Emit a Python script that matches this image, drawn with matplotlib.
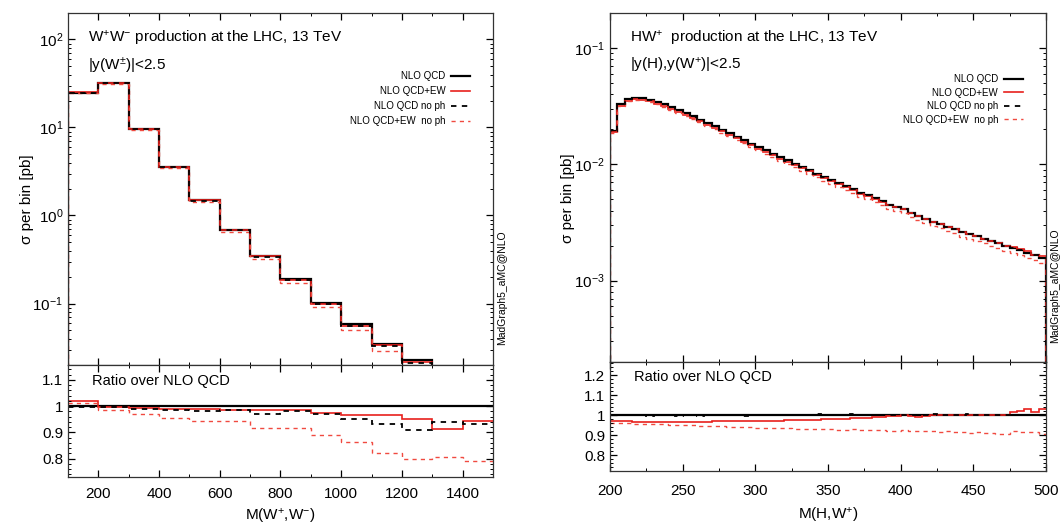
import numpy as np
import matplotlib
matplotlib.use("Agg")
import matplotlib.pyplot as plt
from matplotlib.ticker import MultipleLocator, FixedLocator, FuncFormatter, LogLocator, NullFormatter

plt.rcParams['font.family'] = ['Liberation Sans', 'DejaVu Sans']
plt.rcParams['mathtext.fontset'] = 'custom'
plt.rcParams['mathtext.rm'] = 'Liberation Sans'
plt.rcParams['mathtext.it'] = 'Liberation Sans:italic'
plt.rcParams['mathtext.bf'] = 'Liberation Sans:bold'

# ---- W+W- : M(W+,W-) bins of 100 GeV ----
ww_edges = [100, 200, 300, 400, 500, 600, 700, 800, 900, 1000, 1100, 1200, 1300, 1400, 1500]
ww_qcd = [24.5, 32.0, 9.6, 3.6, 1.5, 0.69, 0.35, 0.188, 0.102, 0.058, 0.035, 0.023, 0.0135, 0.0085]
ww_r_ew = [1.02, 0.996, 0.993, 0.99, 0.988, 0.987, 0.985, 0.985, 0.975, 0.968, 0.968, 0.95, 0.912, 0.945]
ww_r_noph = [0.998, 0.997, 0.99, 0.985, 0.98, 0.985, 0.972, 0.982, 0.97, 0.953, 0.932, 0.91, 0.94, 0.933]
ww_r_ew_noph = [1.012, 0.986, 0.969, 0.956, 0.943, 0.943, 0.916, 0.916, 0.89, 0.862, 0.82, 0.798, 0.808, 0.79]

# ---- HW+ : M(H,W+) bins of 5 GeV ----
hw_edges = list(range(200, 505, 5))
hw_qcd = [0.0195, 0.033, 0.0365, 0.0375, 0.0372, 0.036, 0.0345, 0.0328, 0.031, 0.0292,
          0.0275, 0.0258, 0.0242, 0.0227, 0.0212, 0.0198, 0.0185, 0.0173, 0.0161, 0.0151,
          0.0141, 0.0132, 0.0123, 0.0115, 0.0108, 0.0101, 0.0095, 0.0089, 0.0083, 0.0078,
          0.0073, 0.0069, 0.0065, 0.0061, 0.0057, 0.0054, 0.0051, 0.0048, 0.0045, 0.0043,
          0.0041, 0.0038, 0.0036, 0.0034, 0.0032, 0.0031, 0.0029, 0.0028, 0.0026, 0.0025,
          0.0024, 0.0023, 0.0022, 0.0021, 0.0020, 0.0019, 0.00182, 0.00173, 0.00165, 0.00158]
hw_r_ew = [0.970, 0.968, 0.968, 0.967, 0.967, 0.967, 0.966, 0.966, 0.966, 0.966,
           0.966, 0.967, 0.967, 0.967, 0.968, 0.968, 0.969, 0.969, 0.970, 0.970,
           0.970, 0.971, 0.972, 0.972, 0.973, 0.974, 0.975, 0.976, 0.977, 0.978,
           0.979, 0.980, 0.982, 0.983, 0.984, 0.986, 0.988, 0.992, 0.995, 0.994,
           1.000, 0.996, 0.990, 0.995, 0.998, 1.000, 0.998, 0.999, 1.001, 0.998,
           1.000, 0.999, 1.001, 1.002, 1.000, 1.015, 1.020, 1.030, 1.015, 1.030]
hw_r_noph = [0.999, 0.998, 0.999, 0.998, 0.999, 0.997, 0.998, 0.999, 0.998, 0.997,
             0.998, 0.999, 0.997, 0.998, 0.999, 1.000, 0.998, 0.999, 0.997, 0.998,
             0.999, 1.001, 0.998, 1.000, 0.999, 1.002, 0.999, 1.001, 1.003, 0.999,
             1.002, 0.998, 1.001, 1.003, 0.999, 1.001, 0.998, 1.000, 1.002, 0.999,
             1.001, 0.999, 1.002, 1.000, 1.003, 0.999, 1.001, 1.002, 1.000, 1.003,
             1.001, 0.999, 1.002, 1.000, 0.998, 1.001, 1.000, 1.002, 0.999, 1.001]
hw_r_ew_noph = [0.962, 0.960, 0.958, 0.957, 0.956, 0.955, 0.954, 0.953, 0.952, 0.951,
                0.950, 0.948, 0.947, 0.946, 0.945, 0.943, 0.942, 0.941, 0.940, 0.939,
                0.937, 0.936, 0.935, 0.934, 0.933, 0.932, 0.931, 0.930, 0.929, 0.928,
                0.928, 0.927, 0.926, 0.928, 0.925, 0.924, 0.923, 0.925, 0.922, 0.921,
                0.923, 0.920, 0.919, 0.918, 0.921, 0.917, 0.918, 0.916, 0.915, 0.912,
                0.913, 0.910, 0.908, 0.906, 0.903, 0.918, 0.915, 0.913, 0.916, 0.905]

labels = ["NLO QCD", "NLO QCD+EW", "NLO QCD no ph", "NLO QCD+EW  no ph"]
styles = [dict(color="black", lw=1.6, ls="-"),
          dict(color="#e8201c", lw=1.2, ls="-"),
          dict(color="black", lw=1.3, ls=(0, (3, 3))),
          dict(color="#f04a40", lw=1.0, ls=(0, (3, 3)))]

fig = plt.figure(figsize=(10.64, 5.24), dpi=100)


def panel(rect_main, rect_ratio, edges, qcd, r_ew, r_noph, r_ew_noph,
          xlim, ylim, rlim, xmaj, xmin, rticks, title, cut, xlabel,
          leg_anchor, leg_space, xpad, xlabpad):
    ax = fig.add_axes(rect_main)
    axr = fig.add_axes(rect_ratio, sharex=ax)
    qcd = np.array(qcd)
    ratios = [np.ones(len(qcd)), np.array(r_ew), np.array(r_noph), np.array(r_ew_noph)]
    order = [0, 1, 3, 2]
    for i in order:
        ax.stairs(qcd * ratios[i], edges, baseline=1e-9, label=labels[i], **styles[i])
        axr.stairs(ratios[i], edges, baseline=None, **styles[i])
    ax.set_yscale("log")
    ax.set_xlim(*xlim)
    ax.set_ylim(*ylim)
    axr.set_ylim(*rlim)

    for a in (ax, axr):
        a.xaxis.set_major_locator(MultipleLocator(xmaj))
        a.xaxis.set_minor_locator(MultipleLocator(xmin))
        a.tick_params(which="both", direction="in", top=True, right=True, labelsize=11)
        a.tick_params(which="major", length=5, width=0.9)
        a.tick_params(which="minor", length=2.5, width=0.7)
        for s in a.spines.values():
            s.set_linewidth(0.9)
            s.set_color("#333333")
    ax.tick_params(labelbottom=False)
    axr.tick_params(axis="x", which="major", pad=xpad)
    ax.yaxis.set_major_locator(LogLocator(base=10, numticks=10))
    ax.yaxis.set_minor_locator(LogLocator(base=10, subs=np.arange(2, 10), numticks=10))
    ax.yaxis.set_minor_formatter(NullFormatter())

    axr.yaxis.set_major_locator(FixedLocator(rticks))
    axr.yaxis.set_minor_locator(MultipleLocator(0.02))
    axr.yaxis.set_major_formatter(FuncFormatter(lambda v, p: "%g" % round(v, 2)))

    ax.text(0.047, 0.928, title, transform=ax.transAxes, fontsize=11, va="center")
    ax.text(0.047, 0.85, cut, transform=ax.transAxes, fontsize=11, va="center")
    axr.text(0.056, 0.86, "Ratio over NLO QCD", transform=axr.transAxes, fontsize=10.5, va="center")

    h, l = ax.get_legend_handles_labels()
    idx = [l.index(t) for t in labels]
    ax.legend([h[i] for i in idx], [l[i] for i in idx], loc="upper right",
              bbox_to_anchor=leg_anchor, frameon=False, fontsize=7, markerfirst=False,
              handlelength=1.9, handletextpad=0.6, labelspacing=leg_space, borderaxespad=0)

    ax.set_ylabel("σ per bin [pb]", fontsize=11)
    ax.yaxis.set_label_coords(-0.08, 0.47)
    axr.set_xlabel(xlabel, fontsize=11, labelpad=xlabpad)
    ax.text(1.022, 0.22, "MadGraph5_aMC@NLO", transform=ax.transAxes, rotation=90,
            fontsize=7.5, ha="center", va="center")
    return ax, axr


panel([0.0639, 0.3034, 0.3994, 0.6718], [0.0639, 0.0897, 0.3994, 0.2137],
      ww_edges, ww_qcd, ww_r_ew, ww_r_noph, ww_r_ew_noph,
      (100, 1500), (0.02, 200), (0.73, 1.157), 200, 100, [0.8, 0.9, 1.0, 1.1],
      r"W$^{+}$W$^{-}$ production at the LHC, 13 TeV", r"|y(W$^{\pm}$)|<2.5",
      r"M(W$^{+}$,W$^{-}$)", (0.955, 0.845), 0.5, 7, 4.5)

panel([0.5733, 0.3092, 0.4098, 0.666], [0.5733, 0.1011, 0.4098, 0.208],
      hw_edges, hw_qcd, hw_r_ew, hw_r_noph, hw_r_ew_noph,
      (200, 500), (2e-4, 0.2), (0.72, 1.265), 50, 25, [0.8, 0.9, 1.0, 1.1, 1.2],
      r"HW$^{+}$  production at the LHC, 13 TeV", r"|y(H),y(W$^{+}$)|<2.5",
      r"M(H,W$^{+}$)", (0.955, 0.835), 0.35, 9, 6)

plt.savefig("out.png", dpi=100)
